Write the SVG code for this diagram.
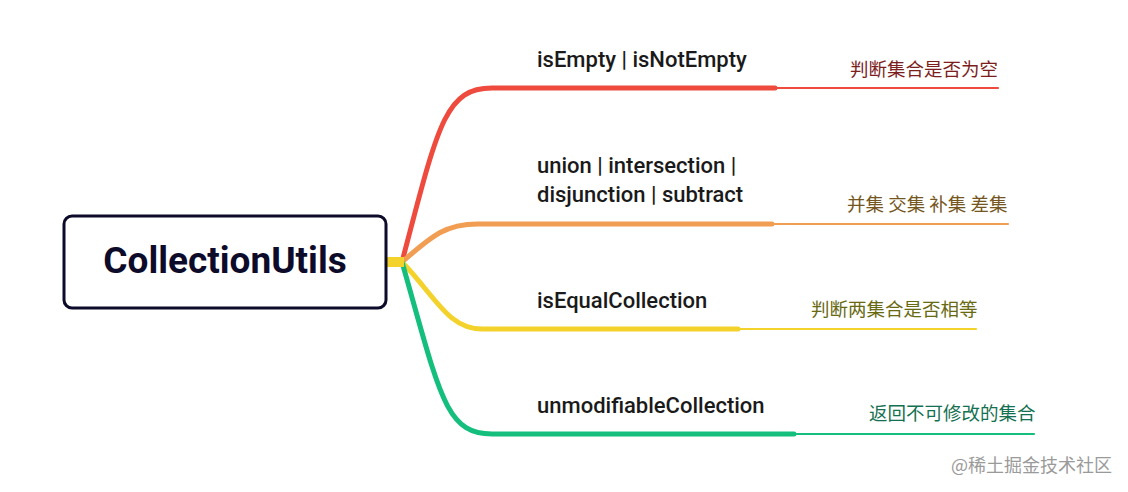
<svg xmlns="http://www.w3.org/2000/svg" width="1128" height="492" viewBox="0 0 1128 492">
<style>
.lbl{font-family:Roboto,"Liberation Sans",sans-serif;font-size:22px;font-weight:500;fill:#1a1a1a}
.cn{font-family:"Noto Sans CJK SC",sans-serif;font-size:18.5px}
.br{fill:none;stroke-linecap:round}
</style>
<rect width="1128" height="492" fill="#ffffff"/>
<g id="connectors">
  <g id="c-red" stroke="#ee4b3e">
    <path class="br" d="M402 262 C438 125 445 88 492 88 L775 88" stroke-width="5"/>
    <path class="br" d="M775 88 L998 88" stroke-width="2.2"/>
  </g>
  <g id="c-orange" stroke="#f19d52">
    <path class="br" d="M402 262 C432 236 445 224 478 224 L772 224" stroke-width="5"/>
    <path class="br" d="M772 224 L1008 224" stroke-width="2.2"/>
  </g>
  <g id="c-yellow" stroke="#f3d22b">
    <path class="br" d="M402 262 C435 296 448 329 482 329 L738 329" stroke-width="5"/>
    <path class="br" d="M738 329 L976 329" stroke-width="2.2"/>
  </g>
  <g id="c-green" stroke="#14bf7d">
    <path class="br" d="M402 262 C440 395 445 434 492 434 L794 434" stroke-width="5"/>
    <path class="br" d="M794 434 L1034 434" stroke-width="2.2"/>
  </g>
  <rect x="386" y="257" width="18" height="10" fill="#f3d22b"/>
</g>
<g id="root">
  <rect x="64" y="216" width="322" height="92" rx="8" fill="#ffffff" stroke="#0d0b2a" stroke-width="3"/>
  <text x="225" y="273" text-anchor="middle" font-family="Roboto,'Liberation Sans',sans-serif" font-size="37" font-weight="700" fill="#0d0b2a">CollectionUtils</text>
</g>
<g id="n-empty">
  <text class="lbl" x="537" y="67">isEmpty | isNotEmpty</text>
  <text class="cn" x="850" y="76" fill="#7d1e1e">判断集合是否为空</text>
</g>
<g id="n-union">
  <text class="lbl" x="537" y="173">union | intersection |</text>
  <text class="lbl" x="537" y="202">disjunction | subtract</text>
  <text class="cn" x="847" y="211" fill="#745620">并集 交集 补集 差集</text>
</g>
<g id="n-equal">
  <text class="lbl" x="537" y="308">isEqualCollection</text>
  <text class="cn" x="811" y="316" fill="#696912">判断两集合是否相等</text>
</g>
<g id="n-unmod">
  <text class="lbl" x="537" y="413">unmodifiableCollection</text>
  <text class="cn" x="869" y="420" fill="#137050">返回不可修改的集合</text>
</g>
<text x="951" y="472" font-family="'Noto Sans CJK SC',sans-serif" font-size="18" fill="#9a9a9a">@稀土掘金技术社区</text>
</svg>
